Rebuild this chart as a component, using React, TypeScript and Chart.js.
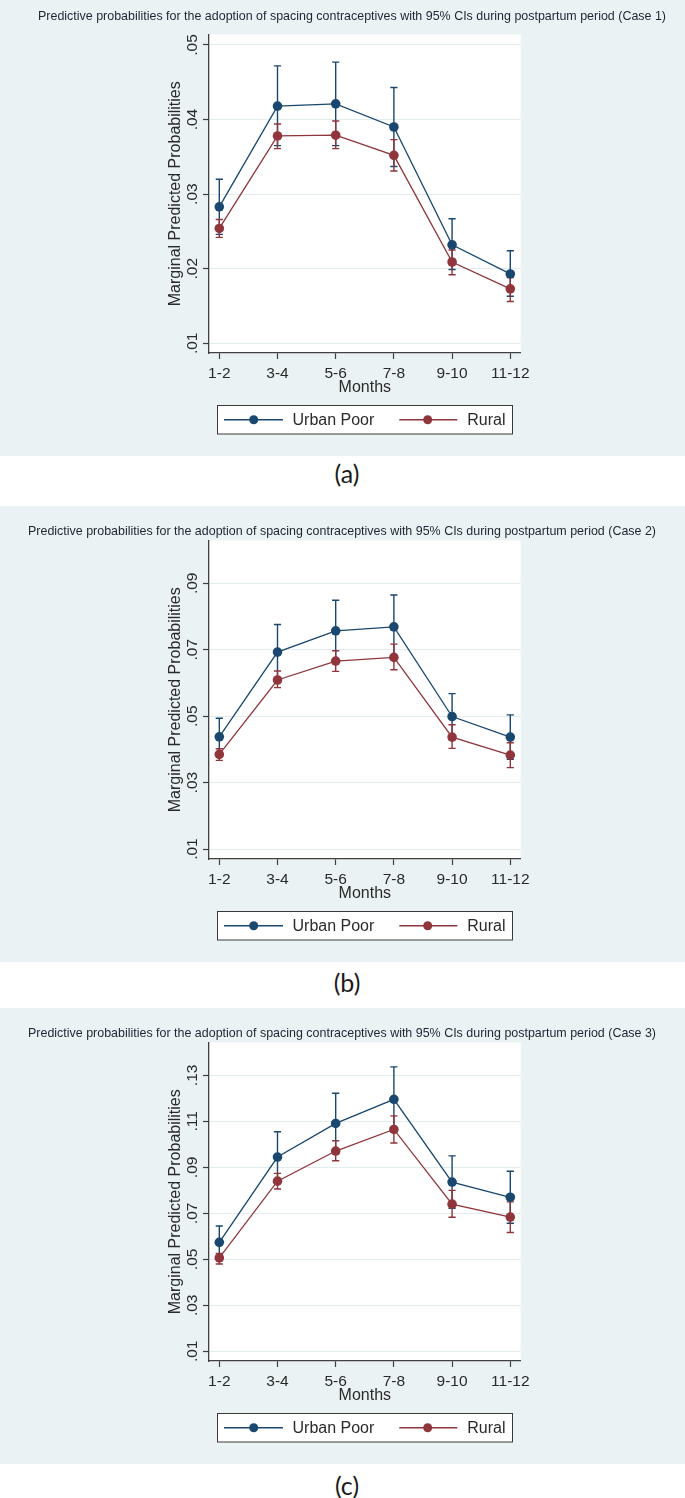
import React, { useEffect, useRef } from 'react';
import { Chart, registerables } from 'chart.js';

Chart.register(...registerables);

const FONT = '"Liberation Sans", Arial, Helvetica, sans-serif';

// ---------- data ----------
const months = ['1-2', '3-4', '5-6', '7-8', '9-10', '11-12'];
const seriesNames = ['Urban Poor', 'Rural'];
const seriesColors = ['#1a476f', '#90353b'];
const xAxisTitle = 'Months';
const yAxisTitle = 'Marginal Predicted Probabilities';
const titlePrefix =
  'Predictive probabilities for the adoption of spacing contraceptives with 95% CIs during postpartum period';

// Case 1
const case1UrbanPoor = [0.0283, 0.0418, 0.0421, 0.039, 0.0232, 0.0193];
const case1UrbanPoorLow = [0.0246, 0.0365, 0.0365, 0.0337, 0.0199, 0.0163];
const case1UrbanPoorHigh = [0.032, 0.0472, 0.0477, 0.0443, 0.0267, 0.0224];
const case1Rural = [0.0254, 0.0378, 0.0379, 0.0352, 0.0209, 0.0173];
const case1RuralLow = [0.0242, 0.0361, 0.0361, 0.0331, 0.0192, 0.0156];
const case1RuralHigh = [0.0266, 0.0394, 0.0398, 0.0373, 0.0225, 0.0188];
const case1Ticks = [0.01, 0.02, 0.03, 0.04, 0.05];
const case1Range = [0.0087, 0.0514];

// Case 2
const case2UrbanPoor = [0.0438, 0.0693, 0.0757, 0.0769, 0.0499, 0.0437];
const case2UrbanPoorLow = [0.0382, 0.061, 0.0665, 0.0673, 0.043, 0.037];
const case2UrbanPoorHigh = [0.0494, 0.0776, 0.0849, 0.0865, 0.0568, 0.0504];
const case2Rural = [0.0385, 0.0609, 0.0666, 0.0677, 0.0437, 0.0383];
const case2RuralLow = [0.0367, 0.0586, 0.0635, 0.064, 0.0403, 0.0345];
const case2RuralHigh = [0.0402, 0.0636, 0.0697, 0.0717, 0.0474, 0.042];
const case2Ticks = [0.01, 0.03, 0.05, 0.07, 0.09];
const case2Range = [0.007, 0.1029];

// Case 3
const case3UrbanPoor = [0.0574, 0.0945, 0.1091, 0.1196, 0.0836, 0.077];
const case3UrbanPoorLow = [0.0503, 0.0835, 0.096, 0.1055, 0.0722, 0.0657];
const case3UrbanPoorHigh = [0.0645, 0.1055, 0.1222, 0.1337, 0.095, 0.0883];
const case3Rural = [0.0506, 0.084, 0.0971, 0.1065, 0.074, 0.0684];
const case3RuralLow = [0.048, 0.0806, 0.0929, 0.1006, 0.0683, 0.0617];
const case3RuralHigh = [0.0526, 0.0874, 0.1016, 0.1124, 0.08, 0.075];
const case3Ticks = [0.01, 0.03, 0.05, 0.07, 0.09, 0.11, 0.13];
const case3Range = [0.0058, 0.1443];

type PanelDef = {
  caseNo: number;
  means: number[][];
  lows: number[][];
  highs: number[][];
  ticks: number[];
  range: number[];
  top: number;
  titleCx: number;
  titleY: number;
  label: string;
  labelY: number;
};

const panels: PanelDef[] = [
  {
    caseNo: 1,
    means: [case1UrbanPoor, case1Rural],
    lows: [case1UrbanPoorLow, case1RuralLow],
    highs: [case1UrbanPoorHigh, case1RuralHigh],
    ticks: case1Ticks,
    range: case1Range,
    top: 0,
    titleCx: 352,
    titleY: 16,
    label: '(a)',
    labelY: 473,
  },
  {
    caseNo: 2,
    means: [case2UrbanPoor, case2Rural],
    lows: [case2UrbanPoorLow, case2RuralLow],
    highs: [case2UrbanPoorHigh, case2RuralHigh],
    ticks: case2Ticks,
    range: case2Range,
    top: 506,
    titleCx: 342,
    titleY: 25.5,
    label: '(b)',
    labelY: 982,
  },
  {
    caseNo: 3,
    means: [case3UrbanPoor, case3Rural],
    lows: [case3UrbanPoorLow, case3RuralLow],
    highs: [case3UrbanPoorHigh, case3RuralHigh],
    ticks: case3Ticks,
    range: case3Range,
    top: 1008,
    titleCx: 342,
    titleY: 25.5,
    label: '(c)',
    labelY: 1485,
  },
];

const CANVAS_W = 685;
const CANVAS_H = 456;

function fmtTick(v: number) {
  return v.toFixed(2).replace(/^0/, '');
}

function PanelChart({ p }: { p: PanelDef }) {
  const ref = useRef<HTMLCanvasElement>(null);

  useEffect(() => {
    const canvas = ref.current;
    if (!canvas) return;
    const title = `${titlePrefix} (Case ${p.caseNo})`;

    const decor = {
      id: 'decor',
      beforeDraw(chart: any) {
        const { ctx, chartArea: a, width, height } = chart;
        ctx.save();
        ctx.fillStyle = '#eaf2f3';
        ctx.fillRect(0, 0, width, height);
        ctx.fillStyle = '#ffffff';
        ctx.fillRect(a.left, a.top, a.right - a.left, a.bottom - a.top);
        ctx.font = `13.5px ${FONT}`;
        const w = ctx.measureText(title).width;
        ctx.translate(p.titleCx, p.titleY);
        ctx.scale(628 / w, 1);
        ctx.fillStyle = '#1f2430';
        ctx.textAlign = 'center';
        ctx.textBaseline = 'middle';
        ctx.fillText(title, 0, 0);
        ctx.restore();
      },
      beforeDatasetsDraw(chart: any) {
        const { ctx } = chart;
        const xs = chart.scales.x;
        const ys = chart.scales.y;
        ctx.save();
        ctx.lineWidth = 1.4;
        chart.data.datasets.forEach((ds: any) => {
          ctx.strokeStyle = ds.borderColor;
          ds.errLow.forEach((lo: number, i: number) => {
            const hi = ds.errHigh[i];
            const px = xs.getPixelForValue(i + 1);
            const pl = ys.getPixelForValue(lo);
            const ph = ys.getPixelForValue(hi);
            ctx.beginPath();
            ctx.moveTo(px, pl);
            ctx.lineTo(px, ph);
            ctx.moveTo(px - 3.6, pl);
            ctx.lineTo(px + 3.6, pl);
            ctx.moveTo(px - 3.6, ph);
            ctx.lineTo(px + 3.6, ph);
            ctx.stroke();
          });
        });
        ctx.restore();
      },
      afterDraw(chart: any) {
        const { ctx } = chart;
        ctx.save();
        const bx = 217.5;
        const by = 405.5;
        const bw = 295;
        const bh = 28.5;
        ctx.fillStyle = '#ffffff';
        ctx.fillRect(bx, by, bw, bh);
        ctx.strokeStyle = '#3a3a3a';
        ctx.lineWidth = 1;
        ctx.strokeRect(bx, by, bw, bh);
        const cy = by + bh / 2;
        const items = [
          { x0: 224, x1: 283, mx: 253.7, tx: 292.5 },
          { x0: 399.3, x1: 457.3, mx: 427.7, tx: 467.3 },
        ];
        items.forEach((it, k) => {
          ctx.strokeStyle = seriesColors[k];
          ctx.lineWidth = 1.3;
          ctx.beginPath();
          ctx.moveTo(it.x0, cy);
          ctx.lineTo(it.x1, cy);
          ctx.stroke();
          ctx.fillStyle = seriesColors[k];
          ctx.beginPath();
          ctx.arc(it.mx, cy, 4.5, 0, Math.PI * 2);
          ctx.fill();
          ctx.fillStyle = '#2a2a2a';
          ctx.font = `16px ${FONT}`;
          ctx.textAlign = 'left';
          ctx.textBaseline = 'middle';
          ctx.fillText(seriesNames[k], it.tx, cy + 0.5);
        });
        ctx.restore();
      },
    };

    const datasets = seriesNames.map((name, k) => ({
      label: name,
      data: p.means[k].map((v, i) => ({ x: i + 1, y: v })),
      errLow: p.lows[k],
      errHigh: p.highs[k],
      borderColor: seriesColors[k],
      backgroundColor: seriesColors[k],
      pointBackgroundColor: seriesColors[k],
      pointBorderWidth: 0,
      pointRadius: 4.8,
      borderWidth: 1.3,
      tension: 0,
      fill: false,
    }));

    const chart = new Chart(canvas, {
      type: 'line',
      data: { datasets } as any,
      plugins: [decor],
      options: {
        animation: false,
        responsive: false,
        devicePixelRatio: 1,
        layout: {
          padding: { left: 162.4, top: 34.5, right: CANVAS_W - 520.7, bottom: 58.7 },
        },
        plugins: {
          legend: { display: false },
          tooltip: { enabled: false },
          title: { display: false },
        },
        scales: {
          x: {
            type: 'linear',
            min: 0.823,
            max: 6.179,
            afterBuildTicks: (s: any) => {
              s.ticks = months.map((_, i) => ({ value: i + 1 }));
            },
            afterFit: (s: any) => {
              s.height = 44.3;
            },
            grid: {
              drawOnChartArea: false,
              drawTicks: true,
              tickLength: 6,
              tickColor: '#404040',
              tickWidth: 1.2,
            },
            border: { color: '#404040', width: 1.3 },
            ticks: {
              padding: 5,
              autoSkip: false,
              maxRotation: 0,
              minRotation: 0,
              color: '#2a2a2a',
              font: { family: FONT, size: 15.5 },
              callback: (v: any) => months[Math.round(Number(v)) - 1] ?? '',
            },
            title: {
              display: true,
              text: xAxisTitle,
              color: '#2a2a2a',
              font: { family: FONT, size: 16 },
              padding: { top: 0, bottom: 0 },
            },
          },
          y: {
            type: 'linear',
            min: p.range[0],
            max: p.range[1],
            afterBuildTicks: (s: any) => {
              s.ticks = p.ticks.map((v) => ({ value: v }));
            },
            afterFit: (s: any) => {
              s.width = 209 - 162.4;
            },
            grid: {
              color: '#e2ecef',
              lineWidth: 1,
              drawTicks: true,
              tickLength: 6,
              tickColor: '#404040',
              tickWidth: 1.2,
            },
            border: { color: '#404040', width: 1.3 },
            ticks: {
              minRotation: 90,
              maxRotation: 90,
              crossAlign: 'center',
              padding: 0,
              autoSkip: false,
              color: '#2a2a2a',
              font: { family: FONT, size: 15.5 },
              callback: (v: any) => fmtTick(Number(v)),
            },
            title: {
              display: true,
              text: yAxisTitle,
              color: '#2a2a2a',
              font: { family: FONT, size: 16 },
              padding: { top: 4, bottom: 0 },
            },
          },
        },
      } as any,
    });
    return () => chart.destroy();
  }, [p]);

  return (
    <canvas
      ref={ref}
      width={CANVAS_W}
      height={CANVAS_H}
      style={{ position: 'absolute', left: 0, top: p.top, width: CANVAS_W, height: CANVAS_H }}
    />
  );
}

export default function App() {
  useEffect(() => {
    document.body.style.margin = '0';
  }, []);
  return (
    <div style={{ position: 'relative', width: 685, height: 1498, background: '#ffffff', overflow: 'hidden' }}>
      {panels.map((p) => (
        <PanelChart key={p.caseNo} p={p} />
      ))}
      {panels.map((p) => (
        <div
          key={'lbl' + p.caseNo}
          style={{
            position: 'absolute',
            left: 347,
            top: p.labelY,
            transform: 'translate(-50%, -50%)',
            fontFamily: 'Lato, "Open Sans", sans-serif',
            fontSize: 25,
            color: '#1a1a1a',
            lineHeight: 1,
            whiteSpace: 'nowrap',
          }}
        >
          {p.label}
        </div>
      ))}
    </div>
  );
}
